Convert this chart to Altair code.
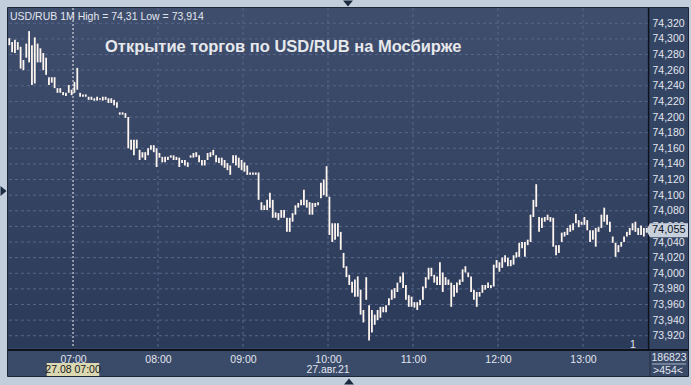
import altair as alt
import pandas as pd

# ---------------- data ----------------
TITLE = "Открытие торгов по USD/RUB на Мосбирже"
HEADER = "USD/RUB 1M High = 74,31 Low = 73,914"

START_MINUTE = -45   # first candle 06:15 (minutes relative to 07:00)
STEP_MINUTES = 2

HIGHS = [
    74.301, 74.296, 74.299, 74.296, 74.290, 74.273, 74.294, 74.310, 74.292, 74.302,
    74.294, 74.288, 74.282, 74.276, 74.251, 74.251, 74.251, 74.237, 74.237, 74.232,
    74.231, 74.241, 74.235, 74.245, 74.263, 74.231, 74.229, 74.229, 74.226, 74.226,
    74.224, 74.226, 74.224, 74.226, 74.226, 74.224, 74.224, 74.222, 74.219, 74.206,
    74.206, 74.205, 74.200, 74.171, 74.171, 74.171, 74.158, 74.155, 74.155, 74.160,
    74.164, 74.164, 74.160, 74.154, 74.149, 74.149, 74.149, 74.151, 74.151, 74.149,
    74.148, 74.145, 74.145, 74.142, 74.151, 74.154, 74.155, 74.151, 74.145, 74.145,
    74.154, 74.155, 74.158, 74.151, 74.148, 74.148, 74.145, 74.141, 74.138, 74.151,
    74.151, 74.148, 74.145, 74.142, 74.138, 74.129, 74.129, 74.129, 74.129, 74.091,
    74.087, 74.094, 74.103, 74.094, 74.078, 74.077, 74.081, 74.081, 74.071, 74.071,
    74.077, 74.087, 74.090, 74.094, 74.107, 74.094, 74.091, 74.090, 74.090, 74.091,
    74.116, 74.120, 74.137, 74.098, 74.064, 74.064, 74.064, 74.053, 74.026, 74.009,
    73.998, 73.989, 73.992, 73.996, 73.979, 73.953, 73.995, 73.959, 73.953, 73.947,
    73.953, 73.957, 73.957, 73.959, 73.968, 73.979, 73.981, 73.988, 73.996, 74.001,
    73.985, 73.972, 73.970, 73.963, 73.963, 73.966, 73.983, 73.995, 74.007, 74.007,
    73.998, 73.996, 74.014, 74.001, 73.995, 73.992, 73.988, 73.985, 73.988, 73.992,
    74.005, 74.009, 74.001, 73.996, 73.979, 73.976, 73.976, 73.985, 73.985, 73.988,
    73.985, 74.011, 74.017, 74.014, 74.020, 74.023, 74.020, 74.017, 74.023, 74.027,
    74.039, 74.040, 74.040, 74.043, 74.075, 74.094, 74.114, 74.072, 74.071, 74.072,
    74.075, 74.072, 74.071, 74.036, 74.036, 74.052, 74.053, 74.058, 74.062, 74.064,
    74.076, 74.068, 74.066, 74.072, 74.068, 74.055, 74.055, 74.058, 74.059, 74.075,
    74.084, 74.075, 74.066, 74.047, 74.039, 74.036, 74.040, 74.047, 74.053, 74.058,
    74.064, 74.066, 74.058, 74.061, 74.058, 74.058,
]
LOWS = [
    74.292, 74.283, 74.282, 74.286, 74.262, 74.260, 74.276, 74.270, 74.241, 74.243,
    74.270, 74.270, 74.260, 74.254, 74.241, 74.244, 74.237, 74.231, 74.231, 74.228,
    74.227, 74.231, 74.228, 74.231, 74.235, 74.226, 74.226, 74.226, 74.222, 74.222,
    74.221, 74.221, 74.222, 74.221, 74.222, 74.218, 74.218, 74.215, 74.212, 74.203,
    74.203, 74.199, 74.160, 74.158, 74.151, 74.160, 74.145, 74.148, 74.145, 74.151,
    74.158, 74.155, 74.136, 74.148, 74.142, 74.142, 74.145, 74.148, 74.145, 74.145,
    74.136, 74.141, 74.138, 74.136, 74.148, 74.148, 74.149, 74.142, 74.138, 74.138,
    74.145, 74.149, 74.151, 74.142, 74.141, 74.138, 74.135, 74.132, 74.126, 74.141,
    74.138, 74.135, 74.132, 74.130, 74.126, 74.126, 74.126, 74.126, 74.094, 74.081,
    74.081, 74.081, 74.084, 74.071, 74.071, 74.068, 74.071, 74.071, 74.053, 74.053,
    74.066, 74.075, 74.084, 74.087, 74.087, 74.084, 74.075, 74.075, 74.085, 74.087,
    74.096, 74.100, 74.098, 74.049, 74.040, 74.043, 74.047, 74.030, 74.007, 73.995,
    73.985, 73.975, 73.970, 73.970, 73.947, 73.937, 73.966, 73.914, 73.924, 73.934,
    73.940, 73.943, 73.950, 73.950, 73.959, 73.966, 73.968, 73.976, 73.988, 73.981,
    73.966, 73.957, 73.957, 73.956, 73.953, 73.959, 73.966, 73.981, 73.992, 73.996,
    73.988, 73.985, 73.985, 73.976, 73.985, 73.985, 73.957, 73.970, 73.975, 73.985,
    73.989, 74.001, 73.995, 73.976, 73.966, 73.957, 73.970, 73.975, 73.979, 73.981,
    73.981, 73.983, 74.007, 74.002, 74.007, 74.014, 74.009, 74.009, 74.011, 74.020,
    74.021, 74.032, 74.021, 74.036, 74.040, 74.072, 74.085, 74.053, 74.058, 74.066,
    74.068, 74.066, 74.034, 74.023, 74.026, 74.040, 74.047, 74.049, 74.053, 74.055,
    74.064, 74.059, 74.062, 74.062, 74.055, 74.040, 74.043, 74.034, 74.053, 74.058,
    74.066, 74.062, 74.053, 74.039, 74.021, 74.027, 74.034, 74.040, 74.047, 74.049,
    74.055, 74.053, 74.049, 74.049, 74.047, 74.052,
]

Y_TICKS = [73.92, 73.94, 73.96, 73.98, 74.00, 74.02, 74.04, 74.06, 74.08, 74.10, 74.12,
           74.14, 74.16, 74.18, 74.20, 74.22, 74.24, 74.26, 74.28, 74.30, 74.32]
X_TICKS = [0, 60, 120, 180, 240, 300, 360]
X_TICK_LABELS = ["07:00", "08:00", "09:00", "10:00", "11:00", "12:00", "13:00"]

LAST_PRICE = 74.055
CROSSHAIR_MINUTE = 0
CROSSHAIR_LABEL = "27.08 07:00"
DATE_MINUTE = 180
DATE_LABEL = "27.авг.21"
VOLUME_LABEL = "186823"
BARS_LABEL = ">454<"
PANE_LABEL = "1"

# ---------------- layout / style ----------------
W, H = 640, 340
FONT = "Liberation Sans"
LBL = "#e1e6ee"
FRAME = "#c2cedb"
NAVY_BG = "#344463"
GRID = "#56678a"

n = len(HIGHS)
candles = pd.DataFrame({
    "m": [START_MINUTE + STEP_MINUTES * i for i in range(n)],
    "hi": HIGHS,
    "lo": LOWS,
})

xs = alt.Scale(domain=[-45.9, 405.9], nice=False, zero=False)
ys = alt.Scale(domain=[73.9043, 74.3396], nice=False, zero=False)

labels_js = "[" + ",".join("'%s'" % s for s in X_TICK_LABELS) + "]"
x_axis = alt.Axis(title=None, values=X_TICKS, labelExpr=labels_js + "[datum.value/60]",
                  grid=False, ticks=False, tickSize=0, domain=False,
                  labelColor=LBL, labelFont=FONT, labelFontSize=10.5,
                  labelPadding=11, labelBaseline="middle", labelFlush=False,
                  labelOverlap=False, zindex=1)
y_axis = alt.Axis(title=None, orient="right", values=Y_TICKS,
                  labelExpr="replace(format(datum.value, '.3f'), '.', ',')",
                  grid=False, ticks=False, tickSize=0, domain=False,
                  labelColor=LBL, labelFont=FONT, labelFontSize=10.5,
                  labelPadding=4, labelAlign="left", labelBaseline="middle",
                  labelFlush=False, labelOverlap=False)


def X(field):
    return alt.X(field, type="quantitative", scale=xs, axis=x_axis)


def Y(field):
    return alt.Y(field, type="quantitative", scale=ys, axis=y_axis)


dummy = pd.DataFrame({"d": [0]})


def box(x1, x2, y1, y2, **kw):
    return alt.Chart(dummy).mark_rect(**kw).encode(
        x=alt.value(x1), x2=alt.value(x2), y=alt.value(y1), y2=alt.value(y2))


def line(x1, x2, y1, y2, **kw):
    return alt.Chart(dummy).mark_rule(**kw).encode(
        x=alt.value(x1), x2=alt.value(x2), y=alt.value(y1), y2=alt.value(y2))


def label(text, x, y, **kw):
    base = dict(font=FONT, fontSize=10.5, color=LBL, baseline="middle")
    base.update(kw)
    return alt.Chart(dummy).mark_text(text=text, **base).encode(
        x=alt.value(x), y=alt.value(y))


def tri(path, x, y, size):
    return alt.Chart(dummy).mark_point(shape=path, filled=True, size=size,
                                       color="#1c2a42", opacity=1).encode(
        x=alt.value(x), y=alt.value(y))


plot_grad = alt.Gradient(
    gradient="linear", x1=0, x2=0, y1=0, y2=1,
    stops=[alt.GradientStop(color="#3f4e6d", offset=0),
           alt.GradientStop(color="#2c3a5a", offset=1)])

plot_bg = box(0, W, 0, H, color=plot_grad)
bottom_bg = box(0, 680, 342.5, 368, color="#3a4a69")

hgrid = alt.Chart(pd.DataFrame({"v": Y_TICKS})).mark_rule(
    color=GRID, strokeDash=[3, 3], strokeWidth=1).encode(y=Y("v"))
vgrid = alt.Chart(pd.DataFrame({"m": X_TICKS[1:]})).mark_rule(
    color=GRID, strokeDash=[3, 3], strokeWidth=1).encode(x=X("m"))

crosshair = alt.Chart(pd.DataFrame({"m": [CROSSHAIR_MINUTE]})).mark_rule(
    color="#f2f2f2", strokeDash=[2, 2], strokeWidth=1).encode(x=X("m"))

bars = alt.Chart(candles).mark_rule(color="#fff6f0", strokeWidth=1.8).encode(
    x=X("m"), y=Y("lo"), y2="hi")

# separators
sep_h = line(-0.5, 680, 342, 342, color="#0d121c", strokeWidth=1.8)
sep_v = line(640.6, 640.6, 0, 342, color="#0d121c", strokeWidth=1.5)
sep_v2 = line(642, 642, 344, 368, color="#222e44", strokeWidth=1)
sep_box = line(644, 678, 356, 356, color="#aab6c8", strokeWidth=1)

# last price box
price_df = pd.DataFrame({"v": [LAST_PRICE],
                         "t": [("%.3f" % LAST_PRICE).replace(".", ",")]})
price_box = alt.Chart(price_df).mark_point(
    shape="M-1.2,0 L-1,-0.37 L1,-0.37 L1,0.37 L-1,0.37 Z",
    filled=True, size=1444, color="#c8d0dc", opacity=1).encode(
    x=alt.value(661), y=Y("v"))
price_txt = alt.Chart(price_df).mark_text(
    font=FONT, fontSize=11, color="#0e1626", align="left", baseline="middle").encode(
    x=alt.value(644), y=Y("v"), text="t:N")

# crosshair time box
ch_df = pd.DataFrame({"m": [CROSSHAIR_MINUTE], "t": [CROSSHAIR_LABEL]})
ch_box = alt.Chart(ch_df).mark_point(
    shape="M-1,-0.27 L1,-0.27 L1,0.27 L-1,0.27 Z",
    filled=True, size=2756, color="#dcd8b2", opacity=1).encode(
    x=X("m"), y=alt.value(362))
ch_txt = alt.Chart(ch_df).mark_text(
    font=FONT, fontSize=10.5, color="#141820", baseline="middle").encode(
    x=X("m"), y=alt.value(362), text="t:N")

date_df = pd.DataFrame({"m": [DATE_MINUTE], "t": [DATE_LABEL]})
date_txt = alt.Chart(date_df).mark_text(
    font=FONT, fontSize=10.5, color=LBL, baseline="middle").encode(
    x=X("m"), y=alt.value(362), text="t:N")

# outer frame
frame = [
    box(-8, 683, -8, -0.5, color=FRAME),
    box(-8, -0.5, -8, 377, color=FRAME),
    box(-8, 683, 368.5, 377, color=FRAME),
    box(680.5, 683, -8, 377, color=FRAME),
    box(-0.5, 680.5, -0.5, 368.5, fill=None, filled=False, stroke="#1c2638", strokeWidth=1),
]

texts = [
    label(HEADER, 2, 9, align="left"),
    label(TITLE, 97, 39, align="left", fontSize=16.5, fontWeight="bold", color="#e6e8ec"),
    label(VOLUME_LABEL, 661, 350, align="center"),
    label(BARS_LABEL, 660, 363, align="center"),
    label(PANE_LABEL, 625, 337, align="center"),
]

triangles = [
    tri("M-1,-0.6 L1,-0.6 L0,0.6 Z", 340, -4.5, 100),
    tri("M-0.6,-1 L0.6,0 L-0.6,1 Z", -4.5, 183, 100),
    tri("M-1,0.6 L1,0.6 L0,-0.6 Z", 341, 373.5, 100),
]

chart = alt.layer(
    plot_bg, bottom_bg, hgrid, vgrid, crosshair, bars,
    sep_h, sep_v, sep_v2, sep_box,
    price_box, price_txt, ch_box, ch_txt, date_txt,
    *frame, *texts, *triangles,
).properties(
    width=W, height=H,
    padding={"left": 8, "top": 8, "right": 43, "bottom": 37},
    autosize=alt.AutoSizeParams(type="none"),
).configure(
    background=NAVY_BG,
).configure_view(
    strokeWidth=0,
)

chart.save("out.html", embed_options={"renderer": "svg", "actions": False})
